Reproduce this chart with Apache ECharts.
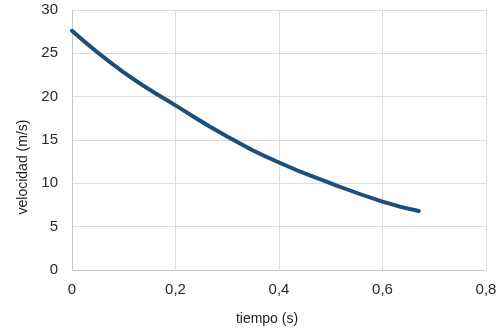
<!DOCTYPE html>
<html><head><meta charset="utf-8">
<script src="https://cdn.jsdelivr.net/npm/echarts@6/dist/echarts.min.js"></script>
<style>html,body{margin:0;padding:0;background:#fff}#c{width:500px;height:331px}</style>
</head><body><div id="c"></div>
<script>
const tiempo = [0, 0.1, 0.2, 0.3, 0.4, 0.5, 0.6, 0.67];
const velocidad = [27.6, 22.8, 19.0, 15.4, 12.4, 10.0, 7.9, 6.8];
const xName = 'tiempo (s)';
const yName = 'velocidad (m/s)';

const chart = echarts.init(document.getElementById('c'), null, {renderer: 'canvas'});
const font = 'Liberation Sans, Arial, sans-serif';
chart.setOption({
  animation: false,
  backgroundColor: '#fff',
  grid: {left: 72, right: 14, top: 10, bottom: 60},
  xAxis: {
    type: 'value', min: 0, max: 0.8, interval: 0.2,
    name: xName, nameLocation: 'middle', nameGap: 42,
    nameTextStyle: {color: '#222', fontSize: 14, fontFamily: font, padding: [0, 24, 0, 0]},
    axisLine: {show: true, lineStyle: {color: '#c8c8c8', width: 1}},
    axisTick: {show: false},
    axisLabel: {color: '#2a2a2a', fontSize: 15, fontFamily: font, margin: 12,
      formatter: v => String(+v.toFixed(1)).replace('.', ',')},
    splitLine: {show: true, lineStyle: {color: '#dcdcdc', width: 1}}
  },
  yAxis: {
    type: 'value', min: 0, max: 30, interval: 5,
    name: yName, nameLocation: 'middle', nameGap: 42,
    nameTextStyle: {color: '#222', fontSize: 14, fontFamily: font, padding: [0, 54, 0, 0]},
    axisLine: {show: true, lineStyle: {color: '#c8c8c8', width: 1}},
    axisTick: {show: false},
    axisLabel: {color: '#2a2a2a', fontSize: 15, fontFamily: font, margin: 14},
    splitLine: {show: true, lineStyle: {color: '#dcdcdc', width: 1}}
  },
  series: [{
    type: 'line',
    data: tiempo.map((t, i) => [t, velocidad[i]]),
    smooth: true,
    showSymbol: false,
    lineStyle: {color: '#1b4f7c', width: 4, cap: 'round'}
  }]
});
</script></body></html>
